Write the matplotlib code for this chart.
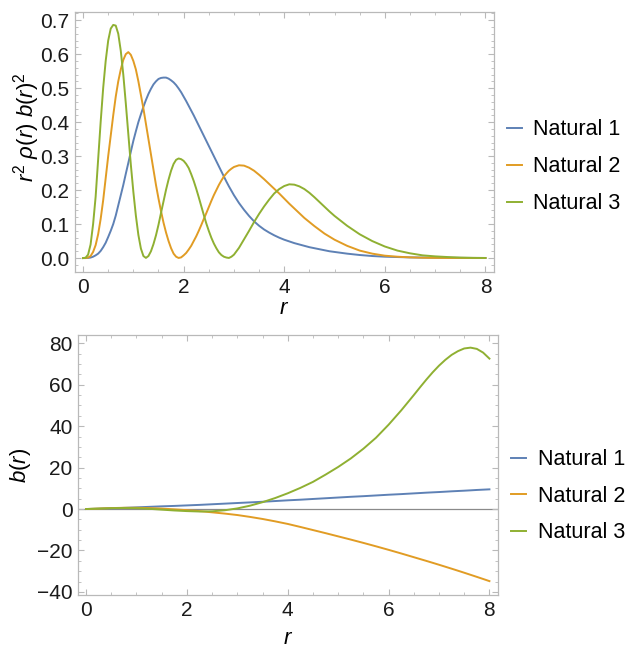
import matplotlib
matplotlib.use('Agg')
import matplotlib.pyplot as plt
from matplotlib.ticker import MultipleLocator, FormatStrFormatter

# values
labels = ['Natural 1', 'Natural 2', 'Natural 3']
colors = ['#5e81b5', '#e19c24', '#8fb032']

# top panel: r^2 rho(r) b(r)^2
r_top = [0.0, 0.05, 0.1, 0.15, 0.2, 0.25, 0.3, 0.35, 0.4, 0.45, 0.5, 0.55, 0.6, 0.65, 0.7,
         0.75, 0.8, 0.85, 0.9, 0.95, 1.0, 1.05, 1.1, 1.15, 1.2, 1.25, 1.3, 1.35, 1.4, 1.45, 1.5,
         1.55, 1.6, 1.65, 1.7, 1.75, 1.8, 1.85, 1.9, 1.95, 2.0, 2.05, 2.1, 2.15, 2.2, 2.25,
         2.3, 2.35, 2.4, 2.45, 2.5, 2.55, 2.6, 2.65, 2.7, 2.75, 2.8, 2.85, 2.9, 2.95, 3.0,
         3.1, 3.2, 3.3, 3.4, 3.5, 3.6, 3.7, 3.8, 3.9, 4.0, 4.1, 4.2, 4.3, 4.4, 4.5, 4.6, 4.7,
         4.8, 4.9, 5.0,
         5.25, 5.5, 5.75, 6.0, 6.25, 6.5, 6.75, 7.0, 7.25, 7.5, 7.75, 8.0]

dens_1 = [0, 0, 0.0005, 0.0015, 0.004, 0.008, 0.013, 0.021, 0.032, 0.045, 0.062, 0.08, 0.10,
          0.125, 0.155, 0.185, 0.215, 0.248, 0.28, 0.313, 0.345, 0.373, 0.40, 0.423, 0.445,
          0.465, 0.483, 0.498, 0.511, 0.52, 0.527,
          0.53, 0.531, 0.531, 0.528, 0.523, 0.517, 0.509, 0.499, 0.488, 0.475,
          0.462, 0.448, 0.434, 0.42, 0.405, 0.39, 0.375, 0.36, 0.345, 0.33,
          0.315, 0.30, 0.285, 0.27, 0.255, 0.24, 0.225, 0.211, 0.198, 0.185,
          0.162, 0.142, 0.124, 0.108, 0.095, 0.084, 0.075, 0.067, 0.06, 0.054,
          0.049, 0.044, 0.04, 0.036, 0.032, 0.029, 0.026, 0.023, 0.02, 0.018,
          0.013, 0.009, 0.006, 0.004, 0.003, 0.002, 0.0015, 0.001, 0.0007, 0.0005, 0.0003, 0.0002]

dens_2 = [0, 0.0002, 0.0015, 0.006, 0.018, 0.038, 0.07, 0.115, 0.17, 0.235, 0.30, 0.36, 0.42,
          0.475, 0.52, 0.555, 0.583, 0.60, 0.606, 0.598, 0.58, 0.555, 0.52, 0.48, 0.44, 0.395,
          0.35, 0.305, 0.26, 0.215, 0.175,
          0.138, 0.104, 0.075, 0.05, 0.029, 0.013, 0.004, 0.0003, 0.002, 0.008,
          0.015, 0.025, 0.036, 0.05, 0.064, 0.08, 0.097, 0.115, 0.132, 0.15,
          0.168, 0.185, 0.2, 0.215, 0.228, 0.24, 0.249, 0.257, 0.263, 0.268,
          0.273, 0.272, 0.266, 0.257, 0.245, 0.232, 0.218, 0.204, 0.19, 0.175,
          0.16, 0.146, 0.132, 0.118, 0.106, 0.094, 0.083, 0.072, 0.063, 0.054,
          0.036, 0.022, 0.013, 0.007, 0.004, 0.002, 0.001, 0.0005, 0.0003, 0.0002, 0.0001, 0.0001]

dens_3 = [0, 0.001, 0.01, 0.04, 0.10, 0.18, 0.29, 0.40, 0.50, 0.58, 0.64, 0.675, 0.686, 0.684,
          0.66, 0.61, 0.54, 0.455, 0.365, 0.275, 0.195, 0.125, 0.068, 0.028, 0.006, 0.0005,
          0.006, 0.02, 0.041, 0.067, 0.098,
          0.133, 0.167, 0.201, 0.231, 0.257, 0.277, 0.289, 0.293, 0.291, 0.286,
          0.277, 0.265, 0.247, 0.227, 0.204, 0.179, 0.153, 0.127, 0.102, 0.08,
          0.06, 0.043, 0.029, 0.017, 0.009, 0.004, 0.0015, 0.0003, 0.004, 0.01,
          0.03, 0.055, 0.08, 0.106, 0.13, 0.152, 0.172, 0.19, 0.203, 0.212,
          0.217, 0.216, 0.211, 0.203, 0.192, 0.179, 0.165, 0.151, 0.137, 0.124,
          0.095, 0.07, 0.05, 0.034, 0.022, 0.014, 0.008, 0.005, 0.003, 0.0015, 0.0007, 0.0003]

# bottom panel: b(r)
r_bot = [0.0, 0.25, 0.5, 0.75, 1.0, 1.25, 1.5, 1.75, 2.0, 2.25, 2.5, 2.75, 3.0, 3.25, 3.5,
         3.75, 4.0, 4.25, 4.5, 4.75, 5.0, 5.25, 5.5, 5.75, 6.0, 6.25, 6.5,
         6.625, 6.75, 6.875, 7.0, 7.125, 7.25, 7.375, 7.5, 7.625, 7.75, 7.875, 8.0]

b_1 = [0, 0.15, 0.35, 0.55, 0.8, 1.05, 1.3, 1.5, 1.75, 2.0, 2.3, 2.6, 2.9, 3.2, 3.5, 3.85,
       4.2, 4.5, 4.85, 5.2, 5.55, 5.9, 6.2, 6.55, 6.9, 7.2, 7.55,
       7.72, 7.9, 8.05, 8.2, 8.37, 8.55, 8.7, 8.85, 9.02, 9.2, 9.35, 9.5]

b_2 = [0, 0.2, 0.45, 0.6, 0.6, 0.45, 0.2, -0.15, -0.55, -1.0, -1.6, -2.2, -2.9, -3.8, -4.8,
       -5.95, -7.2, -8.65, -10.15, -11.65, -13.2, -14.75, -16.35, -18.0, -19.7, -21.45, -23.25,
       -24.15, -25.05, -25.97, -26.9, -27.85, -28.8, -29.77, -30.75, -31.75, -32.75, -33.77,
       -34.8]

b_3 = [0, 0.2, 0.4, 0.5, 0.4, 0.1, -0.3, -0.7, -1.0, -1.2, -1.1, -0.6, 0.3, 1.6, 3.3, 5.3,
       7.6, 10.2, 13.1, 16.6, 20.3, 24.4, 29.1, 34.4, 40.7, 47.6, 55.0,
       58.8, 62.5, 66.0, 69.2, 72.0, 74.4, 76.2, 77.5, 77.9, 77.3, 75.5, 72.6]

plt.rcParams['font.family'] = ['Liberation Sans', 'DejaVu Sans']
plt.rcParams['mathtext.fontset'] = 'custom'
plt.rcParams['mathtext.rm'] = 'Liberation Sans'
plt.rcParams['mathtext.it'] = 'Liberation Sans:italic'

W, H = 631, 648
fig = plt.figure(figsize=(W / 100, H / 100), dpi=100)
ax1 = fig.add_axes([75 / W, 1 - 272 / H, 419 / W, 260 / H])
ax2 = fig.add_axes([78 / W, 1 - 595 / H, 420 / W, 260 / H])

frame = '#b9b9b9'


def style(ax):
    for s in ax.spines.values():
        s.set_color(frame)
        s.set_linewidth(0.9)
    ax.tick_params(which='both', direction='in', top=True, right=True, color=frame,
                   labelsize=15, labelcolor='#1a1a1a')
    ax.tick_params(which='major', length=4.5, width=0.8, pad=4)
    ax.tick_params(which='minor', length=2.3, width=0.6)
    ax.set_xlim(-0.16, 8.17)
    ax.xaxis.set_major_locator(MultipleLocator(2))
    ax.xaxis.set_minor_locator(MultipleLocator(0.5))


for ys, c, lab in zip([dens_1, dens_2, dens_3], colors, labels):
    ax1.plot(r_top, ys, color=c, lw=1.4, label=lab)
style(ax1)
ax1.set_ylim(-0.041, 0.724)
ax1.yaxis.set_major_locator(MultipleLocator(0.1))
ax1.yaxis.set_minor_locator(MultipleLocator(0.02))
ax1.yaxis.set_major_formatter(FormatStrFormatter('%.1f'))
ax1.set_xlabel(r'$r$', fontsize=16)
ax1.set_ylabel(r'$r^2\ \rho(r)\ b(r)^2$', fontsize=16)
ax1.xaxis.set_label_coords(0.5, -0.1)
ax1.yaxis.set_label_coords(-0.079, 0.558)
ax1.legend(loc='center left', bbox_to_anchor=(1.03, 0.405), frameon=False, fontsize=15.5,
           handlelength=0.7, handletextpad=0.55, labelspacing=0.75, borderpad=0,
           borderaxespad=0)

ax2.axhline(0, color='#8a8a8a', lw=0.9, zorder=1)
for ys, c, lab in zip([b_1, b_2, b_3], colors, labels):
    ax2.plot(r_bot, ys, color=c, lw=1.4, label=lab, zorder=2)
style(ax2)
ax2.set_ylim(-41.5, 84)
ax2.yaxis.set_major_locator(MultipleLocator(20))
ax2.yaxis.set_minor_locator(MultipleLocator(5))
ax2.set_xlabel(r'$r$', fontsize=16)
ax2.set_ylabel(r'$b(r)$', fontsize=16)
ax2.xaxis.set_label_coords(0.5, -0.127)
ax2.yaxis.set_label_coords(-0.107, 0.5)
ax2.legend(loc='center left', bbox_to_anchor=(1.031, 0.38), frameon=False, fontsize=15.5,
           handlelength=0.7, handletextpad=0.55, labelspacing=0.72, borderpad=0,
           borderaxespad=0)

fig.savefig('out.png', dpi=100)
